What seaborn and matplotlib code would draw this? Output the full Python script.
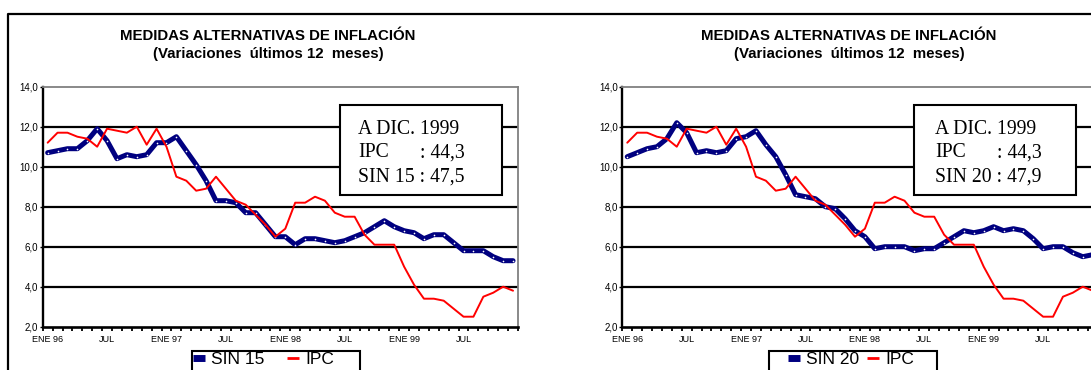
import numpy as np
import pandas as pd
import matplotlib
matplotlib.use("Agg")
import matplotlib.pyplot as plt
from matplotlib.patches import Rectangle
from matplotlib.lines import Line2D
import seaborn as sns

# ---------------- data ----------------
MONTHS = list(range(48))  # Ene 96 .. Dic 99
X_LABEL_POS = [0, 6, 12, 18, 24, 30, 36, 42]
X_LABELS = ["ENE 96", "JUL", "ENE 97", "JUL", "ENE 98", "JUL", "ENE 99", "JUL"]
Y_TICKS = [2, 4, 6, 8, 10, 12, 14]
Y_LABELS = ["2,0", "4,0", "6,0", "8,0", "10,0", "12,0", "14,0"]
GRID_LEVELS = [4, 6, 8, 10, 12]

IPC = [11.2, 11.7, 11.7, 11.5, 11.4, 11.0, 11.9, 11.8, 11.7, 12.0, 11.1, 11.9,
       11.0, 9.5, 9.3, 8.8, 8.9, 9.5, 8.9, 8.3, 8.1, 7.6, 7.1, 6.5,
       6.9, 8.2, 8.2, 8.5, 8.3, 7.7, 7.5, 7.5, 6.6, 6.1, 6.1, 6.1,
       5.0, 4.1, 3.4, 3.4, 3.3, 2.9, 2.5, 2.5, 3.5, 3.7, 4.0, 3.8]

SIN15 = [10.7, 10.8, 10.9, 10.9, 11.3, 11.9, 11.3, 10.4, 10.6, 10.5, 10.6, 11.2,
         11.2, 11.5, 10.8, 10.1, 9.3, 8.3, 8.3, 8.2, 7.7, 7.7, 7.1, 6.5,
         6.5, 6.1, 6.4, 6.4, 6.3, 6.2, 6.3, 6.5, 6.7, 7.0, 7.3, 7.0,
         6.8, 6.7, 6.4, 6.6, 6.6, 6.2, 5.8, 5.8, 5.8, 5.5, 5.3, 5.3]

SIN20 = [10.5, 10.7, 10.9, 11.0, 11.4, 12.2, 11.7, 10.7, 10.8, 10.7, 10.8, 11.4,
         11.5, 11.8, 11.1, 10.5, 9.6, 8.6, 8.5, 8.4, 8.0, 7.9, 7.4, 6.8,
         6.5, 5.9, 6.0, 6.0, 6.0, 5.8, 5.9, 5.9, 6.2, 6.5, 6.8, 6.7,
         6.8, 7.0, 6.8, 6.9, 6.8, 6.4, 5.9, 6.0, 6.0, 5.7, 5.5, 5.6]

TITLE_1 = "MEDIDAS ALTERNATIVAS DE INFLACIÓN"
TITLE_2 = "(Variaciones  últimos 12  meses)"
BOX_HEAD = "A DIC. 1999"
IPC_TOTAL = ": 44,3"
SIN15_TOTAL = "SIN 15 : 47,5"
SIN20_TOTAL = "SIN 20 : 47,9"

# ---------------- style ----------------
sns.set_style("white")
plt.rcParams["font.family"] = ["Liberation Sans", "DejaVu Sans"]

W, H = 1091, 370
fig = plt.figure(figsize=(W / 100, H / 100), dpi=100)
fig.patch.set_facecolor("white")

NAVY = "#000080"
RED = "#FF0000"
GRAY = "#808080"


def fx(x):
    return x / W


def fy(y):
    return 1 - y / H


def panel(ax_left_px, core, core_name, core_total, box_px, text_x_px, title_cx,
          leg_box_x, leg_content_x, leg_colspace):
    ax = fig.add_axes([fx(ax_left_px), fy(326.7), 475.3 / W, 240 / H])
    df = pd.DataFrame({"mes": MONTHS, core_name: core, "IPC": IPC})
    sns.lineplot(data=df, x="mes", y=core_name, ax=ax, color=NAVY, linewidth=3.6,
                 marker="o", markersize=1.2, markerfacecolor="white",
                 markeredgewidth=0, zorder=3, legend=False)
    sns.lineplot(data=df, x="mes", y="IPC", ax=ax, color=RED, linewidth=1.4,
                 zorder=4, legend=False)
    for g in GRID_LEVELS:
        ax.axhline(g, color="black", linewidth=1.6, zorder=1)

    ax.set_xlim(-0.5, 47.5)
    ax.set_ylim(2, 14)
    ax.set_xlabel("")
    ax.set_ylabel("")
    ax.set_yticks(Y_TICKS)
    ax.set_yticklabels(Y_LABELS)
    ax.set_xticks(X_LABEL_POS)
    ax.set_xticklabels(X_LABELS)
    ax.set_xticks(np.arange(-0.5, 48, 1), minor=True)
    ax.tick_params(axis="x", which="major", length=0, pad=6.0, labelsize=6.5,
                   labelcolor="black")
    ax.tick_params(axis="x", which="minor", length=3, width=1.3, direction="out",
                   color="black", bottom=True)
    ax.tick_params(axis="y", which="major", length=2.5, width=1.0, direction="out",
                   pad=0.8, labelsize=7, color="black", left=True, labelcolor="black")

    for s in ("top", "right"):
        ax.spines[s].set_color(GRAY)
        ax.spines[s].set_linewidth(1.3)
    ax.spines["left"].set_color("black")
    ax.spines["left"].set_linewidth(1.7)
    ax.spines["bottom"].set_color("black")
    ax.spines["bottom"].set_linewidth(1.9)
    for s in ax.spines.values():
        s.set_zorder(5)

    # annotation box
    bx0, by0, bx1, by1 = box_px
    ax.add_patch(Rectangle((fx(bx0), fy(by1)), fx(bx1 - bx0), (by1 - by0) / H,
                           transform=fig.transFigure, facecolor="white",
                           edgecolor="black", linewidth=1.5, zorder=6))
    serif = dict(family=["Liberation Serif", "DejaVu Serif"], fontsize=14.25,
                 color="black", zorder=7, ha="left", va="baseline")
    fig.text(fx(text_x_px), fy(133.9), BOX_HEAD, **serif)
    fig.text(fx(text_x_px), fy(157.3), "IPC", **serif)
    fig.text(fx(text_x_px + 61.6), fy(157.3), IPC_TOTAL, **serif)
    fig.text(fx(text_x_px), fy(181.3), core_total, **serif)

    # titles
    fig.text(fx(title_cx), fy(36), TITLE_1, ha="center", va="center",
             fontsize=10.8, fontweight="bold", color="black")
    fig.text(fx(title_cx), fy(54), TITLE_2, ha="center", va="center",
             fontsize=10.8, fontweight="bold", color="black")

    # legend
    handles = [Line2D([], [], color=NAVY, linewidth=5, solid_capstyle="butt"),
               Line2D([], [], color=RED, linewidth=2, solid_capstyle="butt")]
    leg = ax.legend(handles, [core_name, "IPC"], loc="upper left",
                    bbox_to_anchor=(fx(leg_content_x), fy(352.3)),
                    bbox_transform=fig.transFigure, ncol=2, fontsize=12.5,
                    frameon=False, borderpad=0, borderaxespad=0,
                    handlelength=0.7, handletextpad=0.35, columnspacing=leg_colspace)
    for t in leg.get_texts():
        t.set_color("black")
    fig.patches.append(Rectangle((fx(leg_box_x), fy(395)), fx(168), 44.3 / H,
                                 transform=fig.transFigure, facecolor="none",
                                 edgecolor="black", linewidth=1.5, zorder=8))
    return ax


panel(42.7, SIN15, "SIN 15", SIN15_TOTAL, (339.7, 104.7, 502.0, 194.7), 358.0, 268.0,
      192, 193, 1.3)
panel(622.3, SIN20, "SIN 20", SIN20_TOTAL, (913.7, 104.7, 1075.7, 194.7), 935.0, 849.0,
      769, 788, 0.45)

# outer frame
fig.add_artist(Line2D([fx(8), fx(8), 1.0], [0.0, fy(14), fy(14)],
                      transform=fig.transFigure, color="black", linewidth=1.6))

fig.savefig("out.png", dpi=100, facecolor="white")
